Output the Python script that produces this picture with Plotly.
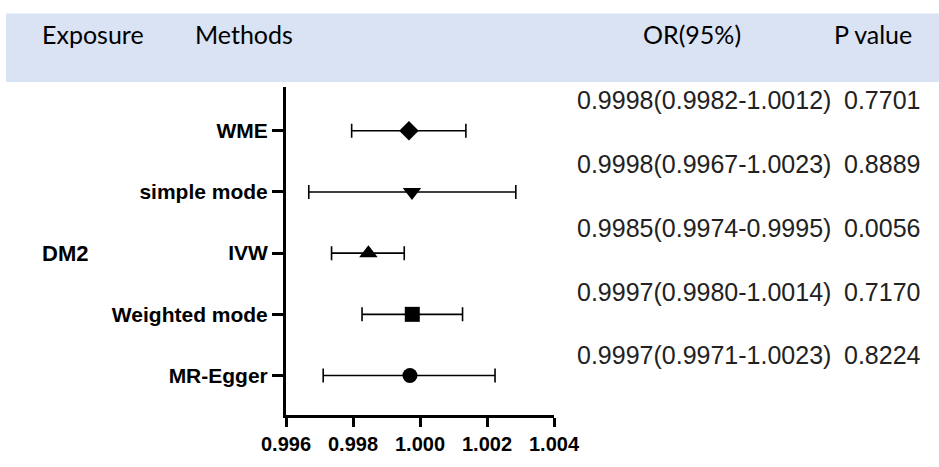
import plotly.graph_objects as go

# ---- data ----
methods = ["WME", "simple mode", "IVW", "Weighted mode", "MR-Egger"]
row_pos = [4, 3, 2, 1, 0]
or_est = [0.99967, 0.99976, 0.99846, 0.99977, 0.99970]
ci_low = [0.99796, 0.99668, 0.99736, 0.99827, 0.99711]
ci_high = [1.00137, 1.00286, 0.99953, 1.00127, 1.00224]
or_text = ["0.9998(0.9982-1.0012)", "0.9998(0.9967-1.0023)", "0.9985(0.9974-0.9995)",
           "0.9997(0.9980-1.0014)", "0.9997(0.9971-1.0023)"]
p_text = ["0.7701", "0.8889", "0.0056", "0.7170", "0.8224"]
symbols = ["diamond", "triangle-down", "triangle-up", "square", "circle"]
sizes = [15, 16, 16, 15, 15]
x_ticks = [0.996, 0.998, 1.000, 1.002, 1.004]
x_ticklabels = ["0.996", "0.998", "1.000", "1.002", "1.004"]
headers = ["Exposure", "Methods", "OR(95%)", "P value"]
exposure = "DM2"

SANS = "Liberation Sans, Arial, sans-serif"

# ---- layout geometry (pixels) ----
W, H = 939, 467
L, R, T, B = 286, 939 - 554, 87, 45
PW, PH = W - L - R, H - T - B

def px(xp):
    return (xp - L) / PW

def py(yp):
    return (H - B - yp) / PH

fig = go.Figure()
for i in range(len(methods)):
    fig.add_trace(go.Scatter(
        x=[or_est[i]], y=[row_pos[i]], mode="markers",
        marker=dict(symbol=symbols[i], size=sizes[i], color="black"),
        error_x=dict(type="data", symmetric=False,
                     array=[ci_high[i] - or_est[i]],
                     arrayminus=[or_est[i] - ci_low[i]],
                     color="black", thickness=1.6, width=7),
        showlegend=False, cliponaxis=False))

# header band
fig.add_shape(type="rect", xref="paper", yref="paper",
              x0=px(6), x1=px(940), y0=py(82), y1=py(12),
              fillcolor="#DAE3F3", line=dict(width=0), layer="below")

header_x = [40, 193, 641, 832]
for hx, ht in zip(header_x, headers):
    fig.add_annotation(x=px(hx), y=py(33), xref="paper", yref="paper", text=ht,
                       showarrow=False, xanchor="left", yanchor="middle",
                       font=dict(family="Lato", size=25, color="#000000"))

text_rows = [100, 166, 231, 296, 361]
for ty, ot, pt in zip(text_rows, or_text, p_text):
    fig.add_annotation(x=px(575), y=py(ty), xref="paper", yref="paper", text=ot,
                       showarrow=False, xanchor="left", yanchor="middle",
                       font=dict(family=SANS, size=25, color="#222222"))
    fig.add_annotation(x=px(842), y=py(ty), xref="paper", yref="paper", text=pt,
                       showarrow=False, xanchor="left", yanchor="middle",
                       font=dict(family=SANS, size=25, color="#222222"))

fig.add_annotation(x=px(65), y=2, xref="paper", yref="y", text=exposure,
                   showarrow=False, xanchor="center", yanchor="middle",
                   font=dict(family=SANS, size=22, color="black", weight="bold"))

fig.update_xaxes(range=[0.996, 1.004], tickvals=x_ticks, ticktext=x_ticklabels,
                 showline=True, linecolor="black", linewidth=3, mirror=False,
                 ticks="outside", ticklen=9, tickwidth=3, tickcolor="black",
                 showgrid=False, zeroline=False,
                 tickfont=dict(family=SANS, size=20, color="black", weight="bold"))
fig.update_yaxes(range=[-0.645, 4.715], tickvals=row_pos, ticktext=methods,
                 showline=True, linecolor="black", linewidth=3,
                 ticks="outside", ticklen=11, tickwidth=3, tickcolor="black",
                 showgrid=False, zeroline=False,
                 tickfont=dict(family=SANS, size=21, color="black", weight="bold"))

fig.update_layout(width=W, height=H, margin=dict(l=L, r=R, t=T, b=B),
                  plot_bgcolor="white", paper_bgcolor="white")

fig.write_html("out.html", config={"displayModeBar": False},
               post_script="document.body.style.margin='0';")
